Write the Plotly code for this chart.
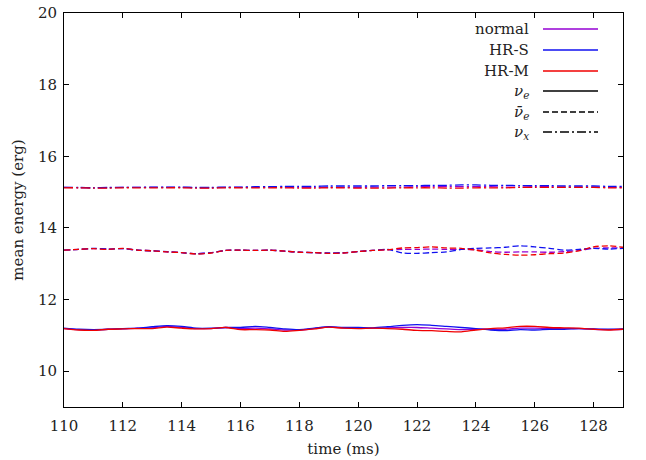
import numpy as np
import plotly.graph_objects as go

# ---------------- data ----------------
time_ms = [110 + 0.5 * i for i in range(39)]

# nu_e (solid)
nue_normal = [11.19, 11.16, 11.15, 11.17, 11.18, 11.20, 11.21, 11.25, 11.22, 11.19,
              11.19, 11.22, 11.19, 11.20, 11.18, 11.15, 11.15, 11.19, 11.23, 11.21,
              11.20, 11.20, 11.21, 11.22, 11.22, 11.20, 11.18, 11.16, 11.17, 11.17,
              11.17, 11.20, 11.20, 11.19, 11.19, 11.19, 11.17, 11.16, 11.17]
nue_hrs = [11.20, 11.17, 11.16, 11.17, 11.19, 11.20, 11.24, 11.27, 11.25, 11.20,
           11.20, 11.22, 11.22, 11.25, 11.22, 11.18, 11.16, 11.20, 11.24, 11.22,
           11.22, 11.21, 11.24, 11.28, 11.30, 11.28, 11.25, 11.22, 11.19, 11.15,
           11.13, 11.16, 11.15, 11.17, 11.17, 11.19, 11.18, 11.17, 11.18]
nue_hrm = [11.19, 11.15, 11.14, 11.17, 11.18, 11.19, 11.19, 11.23, 11.20, 11.18,
           11.19, 11.22, 11.16, 11.16, 11.15, 11.11, 11.14, 11.18, 11.23, 11.20,
           11.19, 11.20, 11.19, 11.17, 11.14, 11.13, 11.11, 11.10, 11.15, 11.19,
           11.21, 11.25, 11.25, 11.22, 11.21, 11.20, 11.17, 11.15, 11.17]

# anti nu_e (dashed)
anue_normal = [13.38, 13.40, 13.42, 13.41, 13.42, 13.38, 13.36, 13.33, 13.31, 13.28,
               13.31, 13.37, 13.38, 13.37, 13.38, 13.35, 13.32, 13.31, 13.29, 13.30,
               13.34, 13.37, 13.39, 13.40, 13.40, 13.41, 13.40, 13.40, 13.39, 13.34,
               13.32, 13.33, 13.33, 13.32, 13.34, 13.37, 13.43, 13.44, 13.44]
anue_hrs = [13.38, 13.40, 13.43, 13.41, 13.42, 13.38, 13.36, 13.34, 13.31, 13.28,
            13.31, 13.37, 13.38, 13.37, 13.38, 13.35, 13.32, 13.31, 13.30, 13.31,
            13.34, 13.37, 13.40, 13.30, 13.29, 13.31, 13.33, 13.40, 13.43, 13.44,
            13.46, 13.50, 13.47, 13.43, 13.38, 13.40, 13.43, 13.41, 13.43]
anue_hrm = [13.38, 13.40, 13.42, 13.40, 13.43, 13.38, 13.36, 13.33, 13.31, 13.27,
            13.30, 13.37, 13.38, 13.37, 13.38, 13.35, 13.32, 13.31, 13.29, 13.30,
            13.34, 13.37, 13.39, 13.44, 13.45, 13.47, 13.44, 13.43, 13.38, 13.30,
            13.26, 13.24, 13.25, 13.28, 13.30, 13.36, 13.47, 13.50, 13.46]

# nu_x (dash-dot)
nux_normal = [15.13, 15.12, 15.12, 15.12, 15.13, 15.13, 15.13, 15.13, 15.13, 15.12,
              15.12, 15.13, 15.13, 15.13, 15.14, 15.14, 15.13, 15.13, 15.13, 15.13,
              15.13, 15.14, 15.14, 15.14, 15.15, 15.15, 15.15, 15.15, 15.15, 15.15,
              15.14, 15.14, 15.15, 15.15, 15.14, 15.14, 15.14, 15.13, 15.13]
nux_hrs = [15.13, 15.13, 15.12, 15.13, 15.13, 15.13, 15.14, 15.14, 15.14, 15.13,
           15.13, 15.14, 15.14, 15.15, 15.15, 15.16, 15.16, 15.16, 15.17, 15.17,
           15.17, 15.17, 15.18, 15.18, 15.18, 15.19, 15.19, 15.20, 15.20, 15.19,
           15.19, 15.18, 15.18, 15.18, 15.17, 15.17, 15.17, 15.16, 15.16]
nux_hrm = [15.12, 15.12, 15.11, 15.11, 15.12, 15.12, 15.12, 15.12, 15.12, 15.11,
           15.11, 15.12, 15.12, 15.12, 15.12, 15.12, 15.11, 15.11, 15.12, 15.12,
           15.11, 15.11, 15.11, 15.12, 15.12, 15.12, 15.11, 15.11, 15.12, 15.12,
           15.12, 15.13, 15.13, 15.13, 15.13, 15.13, 15.13, 15.12, 15.12]

x_ticks = [110, 112, 114, 116, 118, 120, 122, 124, 126, 128]
y_ticks = [10, 12, 14, 16, 18, 20]

model_names = ["normal", "HR-S", "HR-M"]
species_names = ["<i>ν</i><sub><i>e</i></sub>", "<i>ν̄</i><sub><i>e</i></sub>", "<i>ν</i><sub><i>x</i></sub>"]

# ---------------- styles ----------------
colors = {"normal": "#9400D3", "HR-S": "#1010F0", "HR-M": "#F00000"}
dashes = ["solid", "6px,3px", "9px,3px,2px,3px"]
FONT = "DejaVu Serif"
FS = 15
LW = 1.3
TXT = "#222222"

fig = go.Figure()
series = {
    0: {"normal": nue_normal, "HR-S": nue_hrs, "HR-M": nue_hrm},
    1: {"normal": anue_normal, "HR-S": anue_hrs, "HR-M": anue_hrm},
    2: {"normal": nux_normal, "HR-S": nux_hrs, "HR-M": nux_hrm},
}
for s in range(3):
    for m in model_names:
        fig.add_trace(go.Scatter(
            x=time_ms, y=series[s][m], mode="lines",
            line=dict(color=colors[m], width=LW, dash=dashes[s], shape="spline", smoothing=0.8),
            showlegend=False, hoverinfo="skip"))

# ---------------- manual legend (gnuplot style) ----------------
L, R, T, B = 64, 623, 13, 407
W, H = R - L, B - T
def px(x):
    return (x - L) / W
def py(y):
    return (B - y) / H

leg_rows = [29, 50, 71, 91, 112, 132]
labels = model_names + species_names
for i, lab in enumerate(labels):
    yy = py(leg_rows[i])
    fig.add_annotation(x=px(531), y=yy, xref="paper", yref="paper", text=lab,
                       showarrow=False, xanchor="right", yanchor="middle",
                       font=dict(family=FONT, size=FS, color=TXT))
    if i < 3:
        col, dsh = colors[model_names[i]], "solid"
    else:
        col, dsh = "black", dashes[i - 3]
    fig.add_shape(type="line", xref="paper", yref="paper",
                  x0=px(543), x1=px(598), y0=yy, y1=yy,
                  line=dict(color=col, width=LW, dash=dsh))

axis_common = dict(showline=True, linecolor="black", linewidth=1, mirror="ticks",
                   ticks="inside", ticklen=5, tickcolor="black", showgrid=False,
                   zeroline=False, automargin=False,
                   tickfont=dict(family=FONT, size=FS, color=TXT))

fig.update_layout(
    width=646, height=460,
    margin=dict(l=L, r=646 - R, t=T, b=460 - B),
    plot_bgcolor="white", paper_bgcolor="white",
    font=dict(family=FONT, size=FS, color=TXT),
    xaxis=dict(range=[110, 129], tickvals=x_ticks, ticktext=[str(v) for v in x_ticks],
               ticklabelstandoff=5,
               title=dict(text="time (ms)", font=dict(family=FONT, size=FS, color=TXT), standoff=9),
               **axis_common),
    yaxis=dict(range=[9, 20], tickvals=y_ticks, ticktext=[str(v) for v in y_ticks],
               ticklabelstandoff=3,
               title=dict(text="mean energy (erg)", font=dict(family=FONT, size=FS, color=TXT), standoff=10),
               **axis_common),
)

fig.write_html("out.html")
